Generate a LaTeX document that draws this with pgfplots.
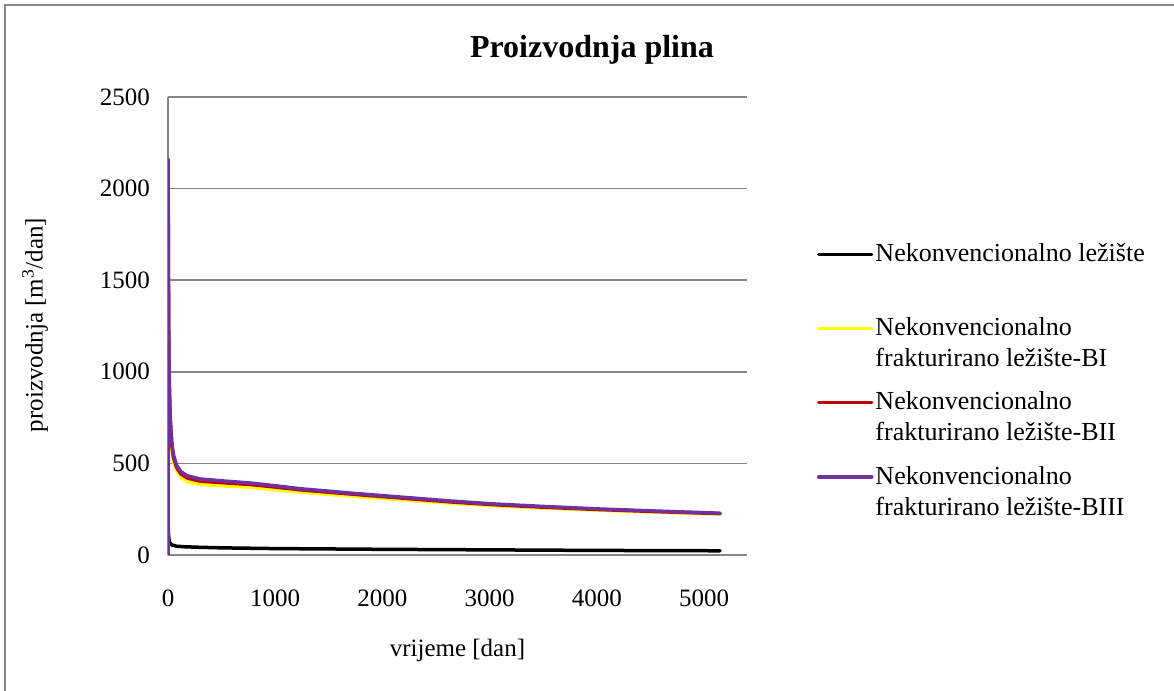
\documentclass[border=0pt]{standalone}
\usepackage{fontspec}
\setmainfont{Liberation Serif}
\usepackage{pgfplots}
\pgfplotsset{compat=1.18}
\definecolor{gridgray}{HTML}{868686}
\definecolor{cyel}{HTML}{FFFF00}
\definecolor{cred}{HTML}{C00000}
\definecolor{cpur}{HTML}{7030A0}
\begin{document}
\begin{tikzpicture}
\useasboundingbox (0,0) rectangle (1174bp,691bp);
\draw[gridgray, line width=2bp] (5bp,0bp) -- (5bp,686bp) -- (1174bp,686bp);
\begin{axis}[
  at={(168bp,136bp)}, anchor=south west,
  width=579bp, height=458bp, scale only axis,
  xmin=0, xmax=5400, ymin=0, ymax=2500,
  xtick={0,1000,...,5000}, ytick={0,500,...,2500},
  axis x line*=bottom, axis y line*=left,
  axis line style={gridgray, line width=1.5bp},
  ymajorgrids, grid style={gridgray, line width=1.5bp},
  major tick length=0pt,
  /pgf/number format/assume math mode=true,
  /pgf/number format/1000 sep={},
  tick label style={font=\fontsize{25bp}{30bp}\selectfont, inner sep=0pt},
  xticklabel style={anchor=base, yshift=-51.5bp},
  yticklabel style={anchor=east, xshift=-18bp},
  xlabel={vrijeme [dan]},
  xlabel style={at={(rel axis cs:0.5,-0.208)}, anchor=center, font=\fontsize{25bp}{30bp}\selectfont},
  ylabel={proizvodnja [m\textsuperscript{3}/dan]},
  ylabel style={at={(rel axis cs:-0.2297,0.502)}, anchor=center, font=\fontsize{25bp}{30bp}\selectfont},
  title={Proizvodnja plina},
  title style={at={(rel axis cs:0.7323,1.090)}, anchor=center, font=\fontsize{32bp}{38bp}\selectfont\bfseries},
  legend cell align=left,
  legend image code/.code={\draw[#1] (0bp,12.5bp) -- (53bp,12.5bp);},
  legend style={at={(rel axis cs:1.1209,0.6926)}, anchor=north west, draw=none, fill=none,
    inner sep=0pt, outer sep=0pt, row sep=16bp,
    font=\fontsize{26bp}{31bp}\selectfont,
    cells={align=left, inner sep=0pt},
    /tikz/every odd column/.append style={column sep=0bp}},
  every axis plot/.append style={line width=3.5bp, line join=round, line cap=round},
]
\addplot[black] coordinates {(0,0) (1,165) (5,110) (10,80) (20,62) (40,54) (80,48) (150,45) (300,42) (500,39) (1000,35) (1500,33) (2000,31) (3000,28) (4000,25) (5150,23)};
\addlegendentry{Nekonvencionalno ležište\strut\\\strut}
\addplot[cyel] coordinates {(0,0) (1,2000) (3,1550) (6,1150) (10,900) (20,690) (35,570) (50,510) (80,460) (120,425) (180,400) (300,385) (500,378) (765,370) (1000,357) (1230,344) (1700,322) (2000,309) (2630,283) (3000,270) (3500,256) (4030,244) (4600,233) (5150,224)};
\addlegendentry{Nekonvencionalno\strut\\frakturirano ležište-BI\strut}
\addplot[cred] coordinates {(0,0) (1,2100) (3,1650) (6,1250) (10,960) (20,730) (35,600) (50,535) (80,478) (120,443) (180,420) (300,403) (500,395) (765,385) (1000,371) (1230,356) (1700,333) (2000,319) (2630,290) (3000,276) (3500,261) (4030,248) (4600,236) (5150,226)};
\addlegendentry{Nekonvencionalno\strut\\frakturirano ležište-BII\strut}
\addplot[cpur] coordinates {(0,0) (1,2160) (3,1700) (6,1300) (10,1000) (20,760) (35,620) (50,550) (80,490) (120,455) (180,432) (300,415) (500,405) (765,393) (1000,378) (1230,362) (1700,338) (2000,324) (2630,295) (3000,280) (3500,265) (4030,251) (4600,239) (5150,228)};
\addlegendentry{Nekonvencionalno\strut\\frakturirano ležište-BIII\strut}
\end{axis}
\end{tikzpicture}
\end{document}
